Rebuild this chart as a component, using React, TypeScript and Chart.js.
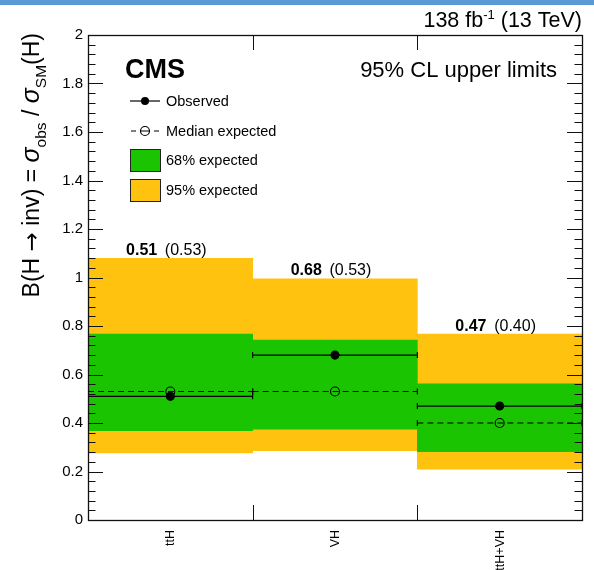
import React, { useEffect, useRef } from 'react';
import { Chart, registerables } from 'chart.js';

Chart.register(...registerables);

// Upper limits on B(H -> inv) per production channel
const categories = ['ttH', 'VH', 'ttH+VH'];
const observed = [0.51, 0.68, 0.47];
const expected = [0.53, 0.53, 0.40];
const band68Low = [0.368, 0.375, 0.282];
const band68High = [0.767, 0.742, 0.562];
const band95Low = [0.277, 0.286, 0.21];
const band95High = [1.079, 0.995, 0.767];

const yMin = 0;
const yMax = 2;
const yMajorStep = 0.2;
const yMinorPerMajor = 5;

const legendLabels = ['Observed', 'Median expected', '68% expected', '95% expected'];
const lumiLabel = ['138 fb', '-1', ' (13 TeV)'];

const FONT = '"Liberation Sans", Arial, Helvetica, sans-serif';
const GREEN = '#1bc400';
const YELLOW = '#ffc20e';

type Seg = { t: string; size: number; weight?: string; style?: string; dy?: number; family?: string };

function segFont(s: Seg) {
  return `${s.style || 'normal'} ${s.weight || 'normal'} ${s.size}px ${s.family || FONT}`;
}

function measureSegs(ctx: CanvasRenderingContext2D, segs: Seg[]) {
  let w = 0;
  for (const s of segs) {
    ctx.font = segFont(s);
    w += ctx.measureText(s.t).width;
  }
  return w;
}

function drawSegs(ctx: CanvasRenderingContext2D, segs: Seg[], x: number, y: number) {
  let cx = x;
  ctx.textAlign = 'left';
  ctx.textBaseline = 'alphabetic';
  for (const s of segs) {
    ctx.font = segFont(s);
    ctx.fillText(s.t, cx, y + (s.dy || 0));
    cx += ctx.measureText(s.t).width;
  }
}

// Per-channel segment: left end, centre, right end, gap
function segmentPoints(values: number[]) {
  const pts: { x: number; y: number | null }[] = [];
  values.forEach((v, i) => {
    pts.push({ x: i, y: v });
    pts.push({ x: i + 0.5, y: v });
    pts.push({ x: i + 1, y: v });
    pts.push({ x: i + 1, y: null });
  });
  return pts;
}

const decorations = {
  id: 'cmsDecorations',
  beforeDraw(chart: any) {
    const { ctx, width } = chart;
    ctx.save();
    ctx.fillStyle = '#ffffff';
    ctx.fillRect(0, 0, width, chart.height);
    ctx.fillStyle = '#5b9bd5';
    ctx.fillRect(0, 0, width, 5);
    ctx.restore();
  },
  afterDatasetsDraw(chart: any) {
    const { ctx, chartArea } = chart;
    const { left, right, top, bottom } = chartArea;
    const xs = chart.scales.x;
    const ys = chart.scales.y;
    ctx.save();
    ctx.strokeStyle = '#111';
    ctx.lineWidth = 1;
    // y ticks, both sides, pointing inwards
    const nMinor = Math.round((yMax - yMin) / yMajorStep) * yMinorPerMajor;
    for (let k = 0; k <= nMinor; k++) {
      const v = yMin + (k * yMajorStep) / yMinorPerMajor;
      const py = Math.round(ys.getPixelForValue(v)) + 0.5;
      const len = k % yMinorPerMajor === 0 ? 15 : 7.5;
      ctx.beginPath();
      ctx.moveTo(left, py);
      ctx.lineTo(left + len, py);
      ctx.moveTo(right, py);
      ctx.lineTo(right - len, py);
      ctx.stroke();
    }
    // category boundary ticks, top and bottom
    for (let i = 1; i < categories.length; i++) {
      const px = Math.round(xs.getPixelForValue(i)) + 0.5;
      ctx.beginPath();
      ctx.moveTo(px, bottom);
      ctx.lineTo(px, bottom - 15);
      ctx.moveTo(px, top);
      ctx.lineTo(px, top + 15);
      ctx.stroke();
    }
    // frame
    ctx.lineWidth = 1.3;
    ctx.strokeRect(Math.round(left) + 0.5, Math.round(top) + 0.5, Math.round(right - left), Math.round(bottom - top));
    ctx.restore();
  },
  afterDraw(chart: any) {
    const { ctx, chartArea } = chart;
    const { right, bottom } = chartArea;
    const xs = chart.scales.x;
    const ys = chart.scales.y;
    ctx.save();
    ctx.fillStyle = '#000';

    // luminosity / energy label
    const lumi: Seg[] = [
      { t: lumiLabel[0], size: 21.5 },
      { t: lumiLabel[1], size: 13, dy: -8 },
      { t: lumiLabel[2], size: 21.5 },
    ];
    drawSegs(ctx, lumi, right - measureSegs(ctx, lumi), 27);

    // CMS label
    ctx.font = `bold 27px ${FONT}`;
    ctx.textAlign = 'left';
    ctx.fillText('CMS', 125, 78);

    // header on the right
    ctx.font = `22px ${FONT}`;
    ctx.textAlign = 'right';
    ctx.fillText('95% CL upper limits', 557, 77);

    // legend
    ctx.textAlign = 'left';
    ctx.textBaseline = 'middle';
    ctx.font = `14.5px ${FONT}`;
    const lx0 = 130;
    const lx1 = 160;
    const lmid = 145;
    const tx = 166;
    const rows = [101, 131, 160, 190];
    ctx.strokeStyle = '#000';
    ctx.lineWidth = 1.2;
    // observed
    ctx.beginPath();
    ctx.moveTo(lx0, rows[0]);
    ctx.lineTo(lx1, rows[0]);
    ctx.stroke();
    ctx.beginPath();
    ctx.arc(lmid, rows[0], 4, 0, Math.PI * 2);
    ctx.fill();
    ctx.fillText(legendLabels[0], tx, rows[0] + 1);
    // median expected
    ctx.beginPath();
    ctx.moveTo(lx0 + 1, rows[1]);
    ctx.lineTo(lx0 + 6, rows[1]);
    ctx.moveTo(lmid - 4, rows[1]);
    ctx.lineTo(lmid + 4, rows[1]);
    ctx.moveTo(lx1 - 6, rows[1]);
    ctx.lineTo(lx1 - 1, rows[1]);
    ctx.stroke();
    ctx.beginPath();
    ctx.arc(lmid, rows[1], 4.5, 0, Math.PI * 2);
    ctx.stroke();
    ctx.fillText(legendLabels[1], tx, rows[1] + 1);
    // bands
    const boxes = [
      { c: GREEN, y: rows[2] },
      { c: YELLOW, y: rows[3] },
    ];
    boxes.forEach((b, k) => {
      ctx.fillStyle = b.c;
      ctx.fillRect(lx0, b.y - 11, lx1 - lx0, 22);
      ctx.strokeStyle = '#222';
      ctx.lineWidth = 1;
      ctx.strokeRect(lx0 + 0.5, b.y - 10.5, lx1 - lx0, 22);
      ctx.fillStyle = '#000';
      ctx.fillText(legendLabels[2 + k], tx, b.y + 1);
    });

    // value labels above each channel
    ctx.textBaseline = 'alphabetic';
    categories.forEach((_, i) => {
      const segs: Seg[] = [
        { t: observed[i].toFixed(2), size: 16, weight: 'bold' },
        { t: '\u2009 ', size: 16 },
        { t: `(${expected[i].toFixed(2)})`, size: 16 },
      ];
      const w = measureSegs(ctx, segs);
      const cx = xs.getPixelForValue(i + 0.5) - 4;
      const yTop = ys.getPixelForValue(band95High[i]);
      drawSegs(ctx, segs, cx - w / 2, yTop - 3.5);
    });

    // channel labels, vertical
    ctx.font = `12.5px ${FONT}`;
    categories.forEach((c, i) => {
      const px = xs.getPixelForValue(i + 0.5);
      ctx.save();
      ctx.translate(px + 4, bottom + 10);
      ctx.rotate(-Math.PI / 2);
      ctx.textAlign = 'right';
      ctx.fillText(c, 0, 0);
      ctx.restore();
    });

    // y-axis title
    const title: Seg[] = [
      { t: 'B(H ', size: 23 },
      { t: '\u2192', size: 23, family: '"DejaVu Sans", sans-serif' },
      { t: ' inv) = ', size: 23 },
      { t: '\u03c3', size: 25, style: 'italic' },
      { t: 'obs', size: 15.5, dy: 7 },
      { t: ' / ', size: 23 },
      { t: '\u03c3', size: 25, style: 'italic' },
      { t: 'SM', size: 15.5, dy: 7 },
      { t: '(H)', size: 23 },
    ];
    const tw = measureSegs(ctx, title);
    ctx.translate(39, 33);
    ctx.rotate(-Math.PI / 2);
    drawSegs(ctx, title, -tw, 0);
    ctx.restore();
  },
};

export default function App() {
  const canvasRef = useRef<HTMLCanvasElement | null>(null);

  useEffect(() => {
    const canvas = canvasRef.current;
    if (!canvas) return;

    const bandData = (lo: number[], hi: number[]) =>
      lo.map((l, i) => ({ x: i + 0.5, y: [l, hi[i]] }));

    const capRadius = (ctx: any, mid: number) => {
      const k = ctx.dataIndex % 4;
      return k === 1 ? mid : k === 3 ? 0 : 3;
    };

    const chart = new Chart(canvas, {
      type: 'bar',
      data: {
        datasets: [
          {
            type: 'bar',
            label: '95% expected',
            data: bandData(band95Low, band95High) as any,
            backgroundColor: YELLOW,
            borderWidth: 0,
            grouped: false,
            barPercentage: 1,
            categoryPercentage: 1,
            order: 4,
          },
          {
            type: 'bar',
            label: '68% expected',
            data: bandData(band68Low, band68High) as any,
            backgroundColor: GREEN,
            borderWidth: 0,
            grouped: false,
            barPercentage: 1,
            categoryPercentage: 1,
            order: 3,
          },
          {
            type: 'line',
            label: 'Median expected',
            data: segmentPoints(expected) as any,
            borderColor: '#000',
            borderWidth: 1.2,
            borderDash: [6, 4],
            spanGaps: false,
            fill: false,
            pointStyle: (c: any) => (c.dataIndex % 4 === 1 ? 'circle' : 'line'),
            pointRotation: (c: any) => (c.dataIndex % 4 === 1 ? 0 : 90),
            pointRadius: (c: any) => capRadius(c, 4.5),
            pointBackgroundColor: 'rgba(0,0,0,0)',
            pointBorderColor: '#000',
            pointBorderWidth: 1.1,
            order: 2,
          } as any,
          {
            type: 'line',
            label: 'Observed',
            data: segmentPoints(observed) as any,
            borderColor: '#000',
            borderWidth: 1.2,
            spanGaps: false,
            fill: false,
            pointStyle: (c: any) => (c.dataIndex % 4 === 1 ? 'circle' : 'line'),
            pointRotation: (c: any) => (c.dataIndex % 4 === 1 ? 0 : 90),
            pointRadius: (c: any) => capRadius(c, 4),
            pointBackgroundColor: '#000',
            pointBorderColor: '#000',
            pointBorderWidth: 1.1,
            order: 1,
          } as any,
        ],
      },
      options: {
        responsive: false,
        animation: false,
        events: [],
        layout: { padding: { top: 35, right: 12, bottom: 50, left: 8 } },
        plugins: {
          legend: { display: false },
          tooltip: { enabled: false },
        },
        scales: {
          x: {
            type: 'linear',
            min: 0,
            max: categories.length,
            offset: false,
            display: false,
            ticks: { stepSize: 1 },
          },
          y: {
            type: 'linear',
            min: yMin,
            max: yMax,
            ticks: {
              stepSize: yMajorStep,
              color: '#000',
              padding: 5,
              font: { family: FONT, size: 15 },
              callback: (v: any) => String(Number(Number(v).toFixed(1))),
            },
            grid: { display: false, drawTicks: false },
            border: { display: false },
            afterFit: (scale: any) => {
              scale.width = 80;
            },
          },
        },
      } as any,
      plugins: [decorations],
    });

    return () => chart.destroy();
  }, []);

  return (
    <div style={{ position: 'absolute', left: 0, top: 0, width: 594, height: 570 }}>
      <canvas ref={canvasRef} width={594} height={570} style={{ display: 'block' }} />
    </div>
  );
}
